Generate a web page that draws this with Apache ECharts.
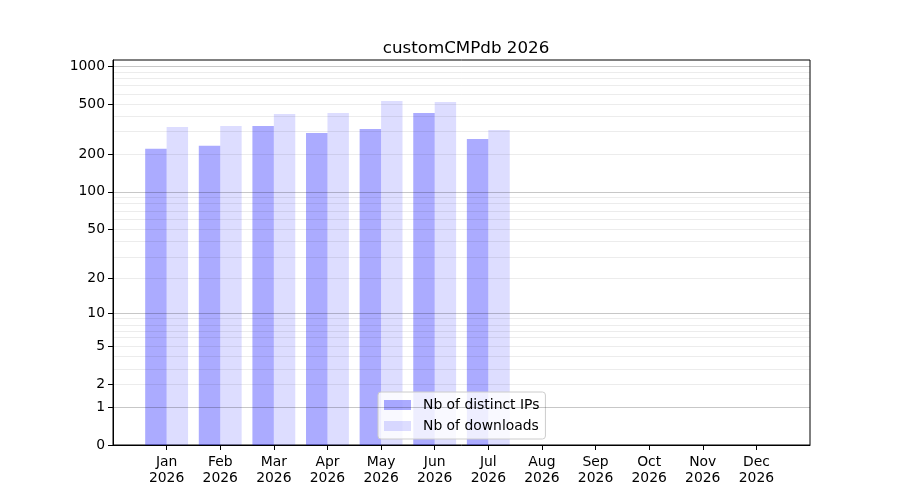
<!DOCTYPE html>
<html><head><meta charset="utf-8">
<script src="https://cdn.jsdelivr.net/npm/echarts@6/dist/echarts.min.js"></script>
</head>
<body style="margin:0;padding:0;background:#fff;">
<div id="chart" style="width:900px;height:500px;"></div>
<script>
// values (log(1+x) axis)
const months = ['Jan', 'Feb', 'Mar', 'Apr', 'May', 'Jun', 'Jul', 'Aug', 'Sep', 'Oct', 'Nov', 'Dec'];
const year = '2026';
const distinctIPs = [220, 233, 335, 294, 316, 424, 264, null, null, null, null, null];
const downloads = [329, 335, 417, 424, 528, 518, 311, null, null, null, null, null];
const yTickValues = [0, 1, 2, 5, 10, 20, 50, 100, 200, 500, 1000];
const majorGridValues = [1, 10, 100, 1000];
const minorGridValues = [2, 3, 4, 5, 6, 7, 8, 9, 20, 30, 40, 50, 60, 70, 80, 90,
  200, 300, 400, 500, 600, 700, 800, 900];

const t = v => (v == null ? null : Math.log10(1 + v));
const font = 'DejaVu Sans';

// empty slot each side so the months sit one step in from the frame
const categories = ['', ...months.map(m => m + '\n' + year), ''];
const pad = arr => [null, ...arr.map(t), null];

const gridLines = [
  ...minorGridValues.map(v => ({ yAxis: t(v), lineStyle: { color: 'rgba(0,0,0,0.075)', width: 1, type: 'solid' } })),
  ...majorGridValues.map(v => ({ yAxis: t(v), lineStyle: { color: 'rgba(0,0,0,0.22)', width: 1, type: 'solid' } })),
];

const chart = echarts.init(document.getElementById('chart'));
chart.setOption({
  animation: false,
  title: {
    text: 'customCMPdb ' + year,
    left: 461,
    top: 35,
    textAlign: 'center',
    textStyle: { fontFamily: font, fontSize: 16.7, fontWeight: 'normal', color: '#000' },
  },
  grid: {
    left: 113, right: 90, top: 60, bottom: 55,
    show: true, borderColor: '#000', borderWidth: 1, backgroundColor: 'transparent',
  },
  legend: {
    orient: 'vertical',
    left: 378, top: 392,
    padding: [6, 6, 6, 6],
    itemWidth: 27, itemHeight: 10, itemGap: 7,
    icon: 'rect',
    backgroundColor: 'rgba(255,255,255,0.8)',
    borderColor: '#cccccc', borderWidth: 1, borderRadius: 3,
    textStyle: { fontFamily: font, fontSize: 13.9, color: '#000', padding: [0, 0, 0, 7] },
    data: ['Nb of distinct IPs', 'Nb of downloads'],
  },
  xAxis: {
    type: 'category',
    data: categories,
    boundaryGap: false,
    axisLine: { lineStyle: { color: '#000', width: 1 } },
    axisTick: { length: 5, lineStyle: { color: '#000' }, interval: (i, v) => v !== '' },
    axisLabel: {
      interval: 0, margin: 9, color: '#000',
      fontFamily: font, fontSize: 13.9, lineHeight: 16,
    },
    splitLine: { show: false },
  },
  yAxis: {
    type: 'value',
    min: 0,
    max: 3.048,
    axisLine: { show: true, lineStyle: { color: '#000', width: 1 } },
    axisTick: { show: true, length: 5, lineStyle: { color: '#000' }, customValues: yTickValues.map(t) },
    axisLabel: {
      customValues: yTickValues.map(t),
      margin: 8, color: '#000', fontFamily: font, fontSize: 13.9,
      formatter: v => String(Math.round(Math.pow(10, v) - 1)),
    },
    splitLine: { show: false },
  },
  series: [
    {
      name: 'Nb of distinct IPs',
      type: 'bar',
      data: pad(distinctIPs),
      barWidth: '40%',
      barGap: '0%',
      itemStyle: { color: 'rgba(0,0,255,0.33)' },
      markLine: {
        silent: true, symbol: 'none', animation: false,
        label: { show: false },
        data: gridLines,
      },
    },
    {
      name: 'Nb of downloads',
      type: 'bar',
      data: pad(downloads),
      barWidth: '40%',
      barGap: '0%',
      itemStyle: { color: 'rgba(0,0,255,0.135)' },
    },
  ],
});
</script>
</body></html>
